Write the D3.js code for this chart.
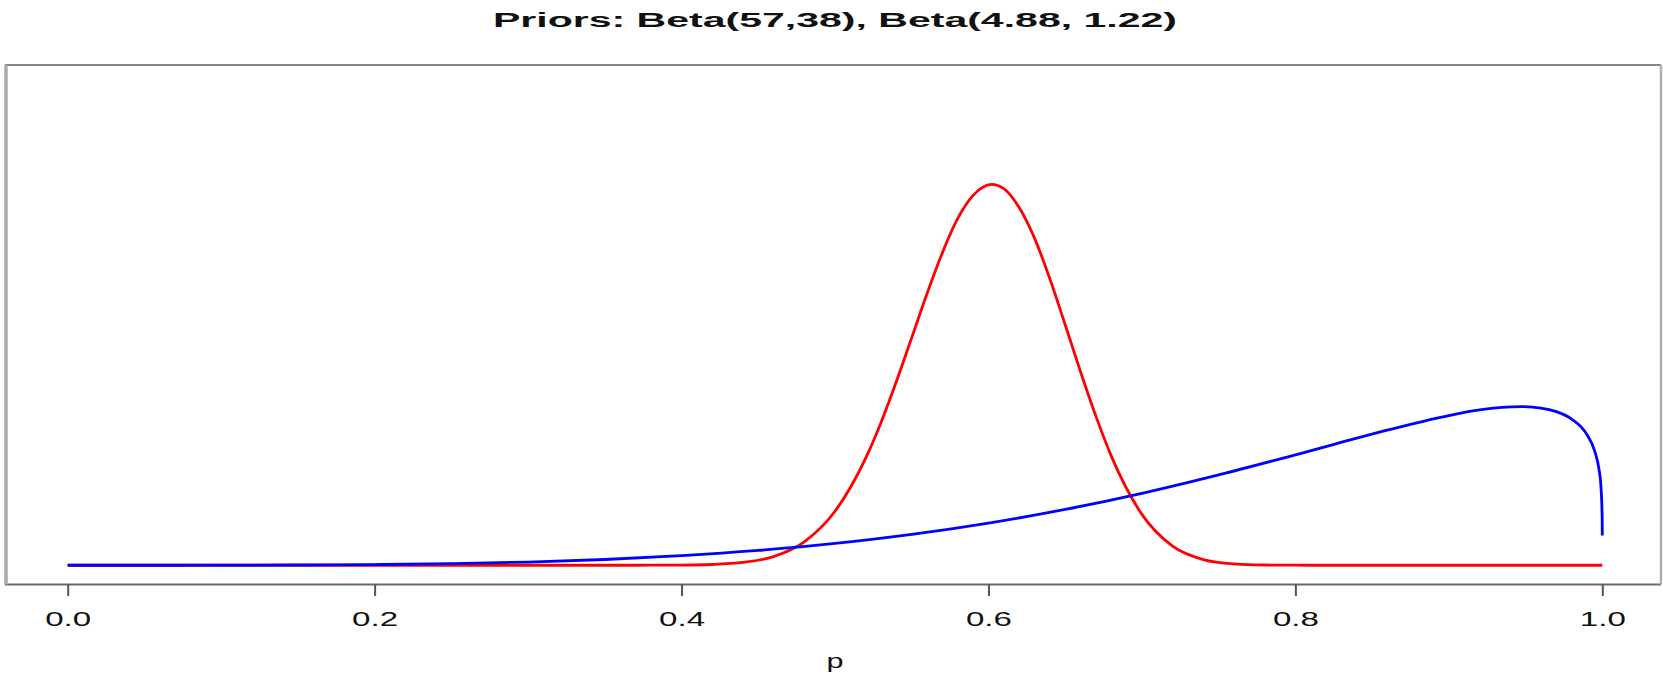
<!DOCTYPE html>
<html>
<head>
<meta charset="utf-8">
<script src="https://cdn.jsdelivr.net/npm/d3@7"></script>
<style>
  html, body { margin: 0; padding: 0; background: #fff; }
  svg { display: block; }
  text { font-family: "Liberation Sans", Arial, Helvetica, sans-serif; fill: #111; }
</style>
</head>
<body>
<svg id="chart" width="1663" height="675"></svg>
<script>
// Beta(57,38) prior density, sampled along p
const redP = [0, 0.1, 0.2, 0.3, 0.36, 0.38, 0.40, 0.42, 0.44, 0.46, 0.48, 0.50, 0.52,
  0.53, 0.54, 0.55, 0.56, 0.57, 0.58, 0.59, 0.602, 0.61, 0.62, 0.63, 0.64, 0.65, 0.66, 0.67,
  0.68, 0.70, 0.72, 0.74, 0.76, 0.78, 0.80, 0.82, 0.9, 1.0];
const redDensity = [0, 0, 0, 0, 0, 0.001, 0.004, 0.016, 0.058, 0.181, 0.487, 1.122, 2.226,
  2.97, 3.821, 4.73, 5.649, 6.50, 7.21, 7.69, 7.92, 7.83, 7.437, 6.80, 5.956, 5.00, 4.024, 3.10,
  2.274, 1.058, 0.399, 0.119, 0.028, 0.005, 0.001, 0, 0, 0];

// Beta(4.88, 1.22) prior density, sampled along p
const blueP = [0, 0.05, 0.1, 0.15, 0.2, 0.25, 0.3, 0.35, 0.4, 0.45, 0.5, 0.55, 0.6, 0.65,
  0.7, 0.75, 0.8, 0.85, 0.9, 0.92, 0.947, 0.96, 0.97, 0.98, 0.99, 0.995, 0.998, 0.999,
  0.9999, 0.99999];
const blueDensity = [0, 0, 0.001, 0.005, 0.014, 0.034, 0.067, 0.120, 0.199, 0.308, 0.453,
  0.641, 0.876, 1.160, 1.495, 1.878, 2.296, 2.727, 3.113, 3.229, 3.298, 3.269, 3.194,
  3.040, 2.715, 2.377, 1.966, 1.695, 1.025, 0.62];

const xTicks = [0, 0.2, 0.4, 0.6, 0.8, 1.0];
const xTickLabels = ["0.0", "0.2", "0.4", "0.6", "0.8", "1.0"];
const yLimits = [0, 10];

const titleText = "Priors: Beta(57,38), Beta(4.88, 1.22)";
const xLabel = "p";

const svg = d3.select("#chart");

// plotting region (box) and data scales
const box = { left: 6, right: 1661, top: 65, bottom: 584.5 };
const x = d3.scaleLinear().domain([0, 1]).range([67.7, 1602.3]);
const yPad = (yLimits[1] - yLimits[0]) * 0.04;
const y = d3.scaleLinear()
  .domain([yLimits[0] - yPad, yLimits[1] + yPad])
  .range([box.bottom, box.top]);

// title
svg.append("text")
  .attr("x", 835).attr("y", 27)
  .attr("text-anchor", "middle")
  .attr("font-size", 19.5)
  .attr("font-weight", "bold")
  .attr("textLength", 684)
  .attr("lengthAdjust", "spacingAndGlyphs")
  .text(titleText);

// density curves
const line = d3.line()
  .x(d => x(d[0]))
  .y(d => y(d[1]))
  .curve(d3.curveMonotoneX);

svg.append("path")
  .datum(redP.map((p, i) => [p, redDensity[i]]))
  .attr("fill", "none")
  .attr("stroke", "#ff0000")
  .attr("stroke-width", 2.8)
  .attr("stroke-linejoin", "round")
  .attr("d", line);

svg.append("path")
  .datum(blueP.map((p, i) => [p, blueDensity[i]]))
  .attr("fill", "none")
  .attr("stroke", "#0000ff")
  .attr("stroke-width", 2.8)
  .attr("stroke-linejoin", "round")
  .attr("d", line);

// plot frame
svg.append("line")
  .attr("x1", box.left - 1).attr("x2", box.right)
  .attr("y1", box.top).attr("y2", box.top)
  .attr("stroke", "#858585").attr("stroke-width", 2);
svg.append("line")
  .attr("x1", box.left - 1).attr("x2", box.right)
  .attr("y1", box.bottom).attr("y2", box.bottom)
  .attr("stroke", "#6a6a6a").attr("stroke-width", 2);
svg.append("line")
  .attr("x1", box.left).attr("x2", box.left)
  .attr("y1", box.top).attr("y2", box.bottom)
  .attr("stroke", "#ababab").attr("stroke-width", 3.5);
svg.append("line")
  .attr("x1", box.right).attr("x2", box.right)
  .attr("y1", box.top).attr("y2", box.bottom)
  .attr("stroke", "#b0b0b0").attr("stroke-width", 2.5);

// x axis
const xAxis = d3.axisBottom(x)
  .tickValues(xTicks)
  .tickFormat((d, i) => xTickLabels[i])
  .tickSize(11.5)
  .tickPadding(0);

const gx = svg.append("g")
  .attr("transform", `translate(0,${box.bottom})`)
  .call(xAxis);
gx.select(".domain").remove();
gx.selectAll(".tick line")
  .attr("stroke", "#555").attr("stroke-width", 2);
gx.selectAll(".tick text")
  .attr("y", 0).attr("dy", 0)
  .attr("transform", "translate(0,41.5)")
  .attr("font-size", 19.5)
  .attr("fill", "#111")
  .attr("textLength", 46)
  .attr("lengthAdjust", "spacingAndGlyphs")
  .style("font-family", "\"Liberation Sans\", Arial, sans-serif");

// x axis title
svg.append("text")
  .attr("x", 835).attr("y", 668)
  .attr("text-anchor", "middle")
  .attr("font-size", 19.5)
  .attr("textLength", 17)
  .attr("lengthAdjust", "spacingAndGlyphs")
  .text(xLabel);
</script>
</body>
</html>
